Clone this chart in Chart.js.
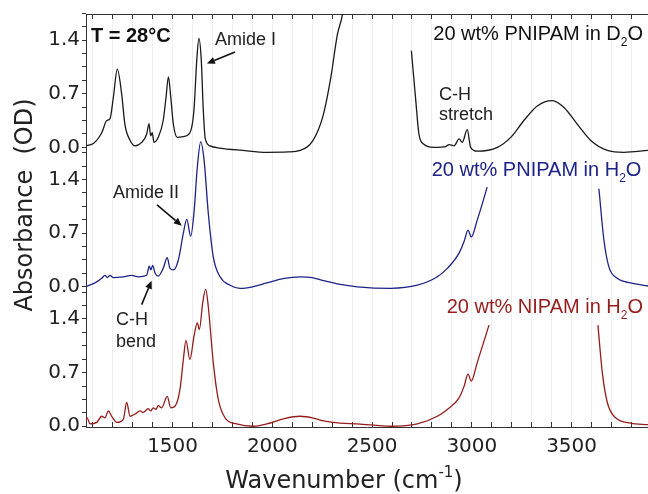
<!DOCTYPE html>
<html>
<head>
<meta charset="utf-8">
<script src="https://cdn.jsdelivr.net/npm/chart.js@4.4.1/dist/chart.umd.min.js"></script>
<style>
  body { margin: 0; background: #fff; }
  canvas { display: block; }
</style>
</head>
<body>
<canvas id="grafico" width="648" height="494"></canvas>
<script>
// Espectros (null = hueco por saturacion)
const d2oWn = [1061, 1103, 1145, 1170, 1186, 1203, 1223, 1245, 1261, 1287, 1312, 1345, 1370, 1382, 1390, 1398, 1407, 1428, 1453, 1467, 1479, 1491, 1504, 1524, 1554, 1587, 1607, 1621, 1632, 1644, 1654, 1664, 1688, 1738, 1850, 1973, 2080, 2139, 2204, 2254, 2293, 2326, 2351, 2370,
  2500,
  2697, 2719, 2735, 2760, 2810, 2869, 2886, 2911, 2936, 2952, 2977, 2994, 3027, 3128, 3195, 3261, 3328, 3403, 3462, 3529, 3596, 3679, 3763, 3883];
const d2oAbs = [0.02, 0.05, 0.19, 0.35, 0.37, 0.65, 1.02, 0.69, 0.30, 0.09, 0.02, 0.065, 0.17, 0.31, 0.15, 0.19, 0.065, 0.13, 0.35, 0.65, 0.92, 0.65, 0.30, 0.13, 0.14, 0.19, 0.48, 1.13, 1.42, 1.13, 0.48, 0.11, 0.02, -0.01, -0.04, -0.065, -0.06, -0.04, 0.09, 0.41, 0.91, 1.47, 1.73, 2.1,
  null,
  1.26, 0.61, 0.17, 0.04, 0.0, 0.01, 0.035, 0.02, 0.11, 0.065, 0.23, 0.0, -0.05, 0.0, 0.13, 0.35, 0.54, 0.61, 0.52, 0.30, 0.09, -0.04, -0.065, -0.04];

const pnipamWn = [1061, 1111, 1145, 1161, 1173, 1186, 1203, 1253, 1295, 1328, 1370, 1383, 1391, 1400, 1412, 1428, 1453, 1473, 1487, 1504, 1529, 1554, 1571, 1591, 1607, 1624, 1641, 1658, 1679, 1704, 1738, 1788, 1838, 1900, 1972, 2060, 2139, 2200, 2256, 2340, 2426, 2593, 2727, 2827, 2877, 2936, 2961, 2981, 2997, 3027, 3077,
  3300,
  3637, 3662, 3687, 3729, 3796, 3883];
const pnipamAbs = [0.0, 0.05, 0.11, 0.15, 0.12, 0.15, 0.12, 0.13, 0.15, 0.13, 0.15, 0.27, 0.22, 0.28, 0.18, 0.14, 0.24, 0.38, 0.24, 0.22, 0.35, 0.70, 0.88, 0.66, 0.96, 1.56, 1.89, 1.65, 0.96, 0.39, 0.13, 0.02, -0.02, 0.0, 0.05, 0.11, 0.13, 0.12, 0.08, 0.03, 0.0, -0.02, 0.02, 0.13, 0.24, 0.44, 0.59, 0.74, 0.65, 0.87, 1.30,
  null,
  1.28, 0.61, 0.26, 0.11, 0.05, 0.01];

const nipamWn = [1061, 1072, 1086, 1120, 1145, 1161, 1178, 1195, 1220, 1253, 1270, 1287, 1312, 1337, 1353, 1378, 1390, 1403, 1417, 1428, 1445, 1473, 1491, 1512, 1537, 1554, 1567, 1587, 1607, 1624, 1634, 1651, 1666, 1679, 1704, 1729, 1763, 1821, 1905, 1972, 2060, 2139, 2200, 2256, 2340, 2426, 2593, 2727, 2827, 2877, 2936, 2961, 2981, 2997, 3027, 3086,
  3300,
  3632, 3654, 3679, 3721, 3796, 3883];
const nipamAbs = [0.03, 0.11, 0.03, 0.05, 0.13, 0.11, 0.20, 0.13, 0.05, 0.09, 0.31, 0.13, 0.16, 0.20, 0.18, 0.23, 0.20, 0.24, 0.22, 0.27, 0.24, 0.39, 0.24, 0.26, 0.48, 0.87, 1.12, 0.87, 1.17, 1.35, 1.26, 1.61, 1.79, 1.56, 0.83, 0.35, 0.11, 0.03, 0.0, 0.03, 0.10, 0.13, 0.11, 0.07, 0.04, 0.03, 0.0, 0.03, 0.13, 0.22, 0.37, 0.52, 0.68, 0.59, 0.83, 1.32,
  null,
  1.32, 0.70, 0.31, 0.11, 0.04, 0.02];

const yTickValues = [0, 0.7, 1.4];
const yTickLabels = ['0.0', '0.7', '1.4'];
const xTickLabels = [1500, 2000, 2500, 3000, 3500];

// desplazamiento vertical de cada panel
const offsets = [3.64, 1.82, 0];
const minorStep = 0.175;

function puntos(wn, abs, off) {
  return wn.map((x, i) => ({ x: x, y: abs[i] === null ? null : abs[i] + off }));
}

// ticks del eje y: menores cada 0.175 y etiquetas 0.0/0.7/1.4 por panel
const yTicks = [];
const yLabelMap = {};
offsets.forEach(off => {
  for (let k = 0; k <= 10; k++) {
    const v = +(off + k * minorStep).toFixed(3);
    yTicks.push({ value: v });
  }
  yTickValues.forEach((t, i) => { yLabelMap[(off + t).toFixed(3)] = yTickLabels[i]; });
});

const xTicks = [];
for (let v = 1100; v <= 3800; v += 100) xTicks.push({ value: v });

const azul = '#1e2389';
const rojo = '#961c1c';
const negro = '#1a1a1a';

// textos y flechas en coordenadas de datos
const textos = [
  { x: 1091, y: 5.01, parts: [{ t: 'T = 28°C' }], font: 'bold 20px "Liberation Sans", Arial', color: '#111', align: 'left' },
  { x: 1712, y: 4.98, parts: [{ t: 'Amide I' }], font: '18px "Liberation Sans", Arial', color: '#222', align: 'left' },
  { x: 3858, y: 5.04, parts: [{ t: '20 wt% PNIPAM in D' }, { t: '2', sub: true }, { t: 'O' }], font: '20px "Liberation Sans", Arial', color: '#111', align: 'right' },
  { x: 2835, y: 4.26, parts: [{ t: 'C-H' }], font: '18px "Liberation Sans", Arial', color: '#222', align: 'left' },
  { x: 2835, y: 4.00, parts: [{ t: 'stretch' }], font: '18px "Liberation Sans", Arial', color: '#222', align: 'left' },
  { x: 3850, y: 3.26, parts: [{ t: '20 wt% PNIPAM in H' }, { t: '2', sub: true }, { t: 'O' }], font: '20px "Liberation Sans", Arial', color: azul, align: 'right' },
  { x: 1201, y: 2.975, parts: [{ t: 'Amide II' }], font: '18px "Liberation Sans", Arial', color: '#222', align: 'left' },
  { x: 1216, y: 1.326, parts: [{ t: 'C-H' }], font: '18px "Liberation Sans", Arial', color: '#222', align: 'left' },
  { x: 1216, y: 1.04, parts: [{ t: 'bend' }], font: '18px "Liberation Sans", Arial', color: '#222', align: 'left' },
  { x: 3858, y: 1.48, parts: [{ t: '20 wt% NIPAM in H' }, { t: '2', sub: true }, { t: 'O' }], font: '20px "Liberation Sans", Arial', color: rojo, align: 'right' }
];
const flechas = [
  { x1: 1813, y1: 4.885, x2: 1672, y2: 4.735 },
  { x1: 1422, y1: 2.89, x2: 1546, y2: 2.617 },
  { x1: 1345, y1: 1.587, x2: 1395, y2: 1.90 }
];

function dibujarPartes(ctx, parts, font, x, y, align) {
  const size = parseFloat(font.match(/(\d+)px/)[1]);
  const subFont = font.replace(/\d+px/, Math.round(size * 0.62) + 'px');
  let total = 0;
  parts.forEach(p => { ctx.font = p.sub || p.sup ? subFont : font; total += ctx.measureText(p.t).width; });
  let cx = align === 'right' ? x - total : (align === 'center' ? x - total / 2 : x);
  parts.forEach(p => {
    ctx.font = p.sub || p.sup ? subFont : font;
    const dy = p.sub ? size * 0.3 : (p.sup ? -size * 0.45 : 0);
    ctx.fillText(p.t, cx, y + dy);
    cx += ctx.measureText(p.t).width;
  });
}

const anotaciones = {
  id: 'anotaciones',
  afterDraw(chart) {
    const ctx = chart.ctx;
    const xs = chart.scales.x, ys = chart.scales.y;
    ctx.save();
    ctx.textBaseline = 'alphabetic';
    ctx.textAlign = 'left';
    textos.forEach(t => {
      ctx.fillStyle = t.color;
      dibujarPartes(ctx, t.parts, t.font, xs.getPixelForValue(t.x), ys.getPixelForValue(t.y), t.align);
    });
    ctx.strokeStyle = '#111';
    ctx.fillStyle = '#111';
    ctx.lineWidth = 1.6;
    flechas.forEach(f => {
      const ax = xs.getPixelForValue(f.x1), ay = ys.getPixelForValue(f.y1);
      const bx = xs.getPixelForValue(f.x2), by = ys.getPixelForValue(f.y2);
      const ang = Math.atan2(by - ay, bx - ax);
      const len = 8, half = 3.5;
      const hx = bx - len * Math.cos(ang), hy = by - len * Math.sin(ang);
      ctx.beginPath();
      ctx.moveTo(ax, ay);
      ctx.lineTo(hx, hy);
      ctx.stroke();
      ctx.beginPath();
      ctx.moveTo(bx, by);
      ctx.lineTo(hx + half * Math.sin(ang), hy - half * Math.cos(ang));
      ctx.lineTo(hx - half * Math.sin(ang), hy + half * Math.cos(ang));
      ctx.closePath();
      ctx.fill();
    });
    // titulos de los ejes
    ctx.fillStyle = '#222';
    dibujarPartes(ctx, [{ t: 'Wavenumber (cm' }, { t: '-1', sup: true }, { t: ')' }], '24px "DejaVu Sans"', 344, 488, 'center');
    ctx.translate(32, 205);
    ctx.rotate(-Math.PI / 2);
    dibujarPartes(ctx, [{ t: 'Absorbance  (OD)' }], '24px "DejaVu Sans"', 0, 0, 'center');
    ctx.restore();
  }
};

new Chart(document.getElementById('grafico').getContext('2d'), {
  type: 'line',
  data: {
    datasets: [
      { label: 'PNIPAM D2O', data: puntos(d2oWn, d2oAbs, offsets[0]), borderColor: negro },
      { label: 'PNIPAM H2O', data: puntos(pnipamWn, pnipamAbs, offsets[1]), borderColor: azul },
      { label: 'NIPAM H2O', data: puntos(nipamWn, nipamAbs, offsets[2]), borderColor: rojo }
    ]
  },
  options: {
    responsive: false,
    animation: false,
    spanGaps: false,
    layout: { padding: 0 },
    elements: {
      point: { radius: 0 },
      line: { borderWidth: 1.3, cubicInterpolationMode: 'monotone', fill: false }
    },
    plugins: { legend: { display: false }, tooltip: { enabled: false } },
    scales: {
      x: {
        type: 'linear', position: 'bottom', min: 1066, max: 3883,
        afterBuildTicks: s => { s.ticks = xTicks.map(t => ({ value: t.value })); },
        afterFit: s => { s.height = 67; },
        border: { color: '#333', width: 1 },
        grid: { color: '#eeeeee', lineWidth: 1, tickColor: '#333', tickLength: -5 },
        ticks: {
          padding: 13, autoSkip: false, maxRotation: 0, color: '#222',
          font: { family: 'DejaVu Sans', size: 20 },
          callback: v => xTickLabels.includes(v) ? String(v) : ''
        }
      },
      xTop: {
        type: 'linear', position: 'top', min: 1066, max: 3883,
        afterBuildTicks: s => { s.ticks = xTicks.map(t => ({ value: t.value })); },
        afterFit: s => { s.height = 14; },
        border: { color: '#333', width: 1 },
        grid: { drawOnChartArea: false, tickColor: '#333', tickLength: -5 },
        ticks: { display: false }
      },
      y: {
        type: 'linear', position: 'left', min: -0.01, max: 5.38,
        afterBuildTicks: s => { s.ticks = yTicks.map(t => ({ value: t.value })); },
        afterFit: s => { s.width = 86; },
        border: { color: '#333', width: 1 },
        grid: { drawOnChartArea: false, tickColor: '#333', tickLength: 4 },
        ticks: {
          padding: 2, autoSkip: false, color: '#222',
          font: { family: 'DejaVu Sans', size: 20 },
          callback: v => yLabelMap[v.toFixed(3)] || ''
        }
      }
    }
  },
  plugins: [anotaciones]
});
</script>
</body>
</html>
